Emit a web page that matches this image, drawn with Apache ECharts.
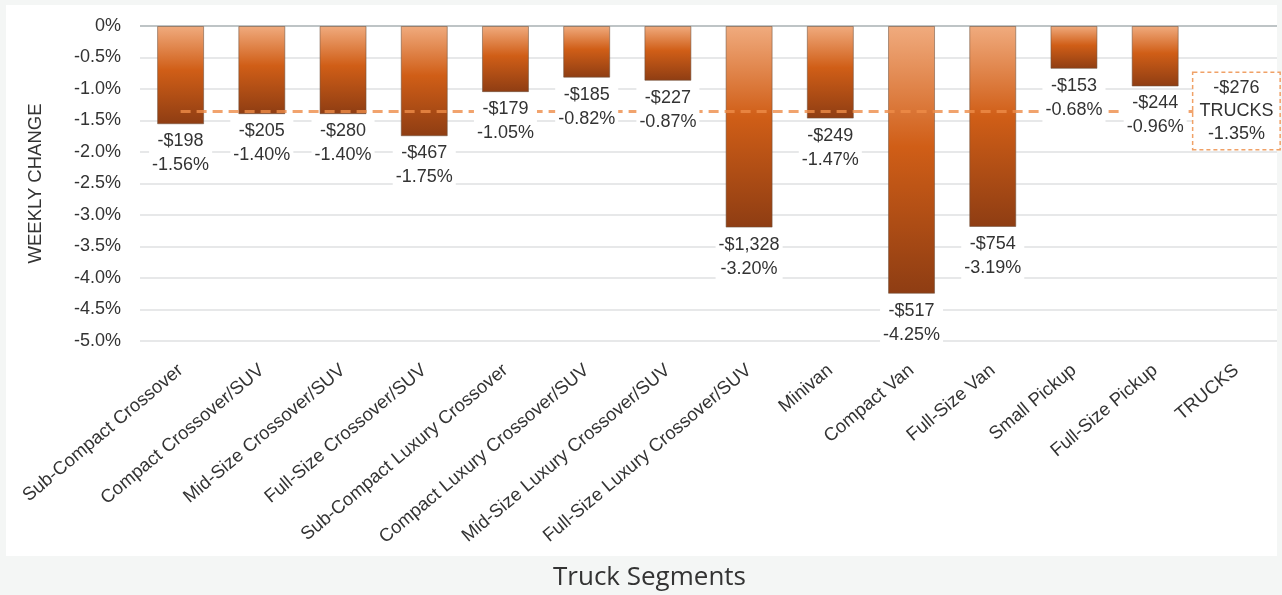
<!DOCTYPE html>
<html>
<head>
<meta charset="utf-8">
<script src="https://cdn.jsdelivr.net/npm/echarts@6/dist/echarts.min.js"></script>
<style>
html,body{margin:0;padding:0;background:#f4f6f5;width:1282px;height:595px;overflow:hidden;}
#panel{position:absolute;left:6px;top:5px;width:1271px;height:551px;background:#fff;}
#chart{position:absolute;left:0;top:0;width:1282px;height:595px;}
</style>
</head>
<body>
<div id="panel"></div>
<div id="chart"></div>
<script>
const categories = [
  'Sub-Compact Crossover','Compact Crossover/SUV','Mid-Size Crossover/SUV','Full-Size Crossover/SUV',
  'Sub-Compact Luxury Crossover','Compact Luxury Crossover/SUV','Mid-Size Luxury Crossover/SUV',
  'Full-Size Luxury Crossover/SUV','Minivan','Compact Van','Full-Size Van','Small Pickup','Full-Size Pickup','TRUCKS'
];
const pctChange = [-1.56, -1.40, -1.40, -1.75, -1.05, -0.82, -0.87, -3.20, -1.47, -4.25, -3.19, -0.68, -0.96, null];
const dollarChange = ['-$198','-$205','-$280','-$467','-$179','-$185','-$227','-$1,328','-$249','-$517','-$754','-$153','-$244', null];
const trucksName = 'TRUCKS';
const trucksPct = -1.35;
const trucksDollar = '-$276';
const yTicks = { min: -5, max: 0, interval: 0.5 };

const chart = echarts.init(document.getElementById('chart'), null, { renderer: 'canvas' });
const font = 'Liberation Sans, Arial, sans-serif';

const barData = pctChange.map(v => v === null ? '-' : v);
const nLines = Math.round((yTicks.max - yTicks.min) / yTicks.interval) + 1;
const gridColors = Array.from({ length: nLines }, (_, i) => i === nLines - 1 ? '#a9b0b3' : '#dfe1e2');

chart.setOption({
  backgroundColor: 'transparent',
  animation: false,
  title: {
    text: 'Truck Segments',
    left: 548,
    top: 560,
    textStyle: { fontFamily: 'Open Sans', fontWeight: 'normal', fontSize: 26, color: '#333' }
  },
  grid: { left: 140, right: 5, top: 26, bottom: 254, containLabel: false },
  xAxis: {
    type: 'category',
    data: categories,
    position: 'bottom',
    axisLine: { show: false },
    axisTick: { show: false },
    axisLabel: {
      rotate: 40,
      interval: 0,
      margin: 27,
      fontSize: 18.5,
      fontFamily: font,
      color: '#333'
    }
  },
  yAxis: {
    type: 'value',
    min: yTicks.min,
    max: yTicks.max,
    interval: yTicks.interval,
    name: 'WEEKLY CHANGE',
    nameLocation: 'middle',
    nameRotate: 90,
    nameGap: 95,
    nameTextStyle: { fontSize: 18.5, fontFamily: font, color: '#333' },
    axisLine: { show: false },
    axisTick: { show: false },
    axisLabel: {
      margin: 19,
      fontSize: 18,
      fontFamily: font,
      color: '#333',
      formatter: v => v === 0 ? '0%' : v.toFixed(1) + '%'
    },
    splitLine: { lineStyle: { color: gridColors, width: 1.5 } }
  },
  series: [
    {
      type: 'bar',
      data: barData,
      barWidth: 47,
      z: 2,
      itemStyle: {
        color: new echarts.graphic.LinearGradient(0, 0, 0, 1, [
          { offset: 0, color: '#f0ab7e' },
          { offset: 0.45, color: '#d05e17' },
          { offset: 1, color: '#8e3d13' }
        ]),
        borderColor: 'rgba(110,80,60,0.55)',
        borderWidth: 1
      },
      label: { show: false },
      markLine: {
        silent: true,
        symbol: 'none',
        z: 5,
        label: { show: false },
        lineStyle: { color: '#ee8c48', opacity: 0.8, width: 3, type: [10, 6] },
        data: [[
          { coord: [categories[0], trucksPct] },
          { coord: [trucksName, trucksPct] }
        ]]
      }
    },
    {
      type: 'bar',
      data: barData,
      barWidth: 47,
      barGap: '-100%',
      z: 10,
      silent: true,
      itemStyle: { color: 'rgba(0,0,0,0)' },
      label: {
        show: true,
        position: 'bottom',
        distance: 4,
        fontSize: 18,
        lineHeight: 24,
        fontFamily: font,
        color: '#333',
        align: 'center',
        backgroundColor: '#fff',
        padding: [1, 3, 1, 3],
        formatter: p => dollarChange[p.dataIndex] + '\n' + pctChange[p.dataIndex].toFixed(2) + '%'
      }
    },
    {
      type: 'scatter',
      data: [[trucksName, trucksPct]],
      symbolSize: 1,
      itemStyle: { color: 'rgba(0,0,0,0)', opacity: 1 },
      z: 10,
      silent: true,
      label: {
        show: true,
        position: 'inside',
        fontSize: 18,
        lineHeight: 23,
        fontFamily: font,
        color: '#333',
        align: 'center',
        backgroundColor: '#fff',
        borderColor: '#f0a167',
        borderWidth: 1.5,
        borderType: [4, 3],
        padding: [4, 6, 3, 6],
        formatter: () => trucksDollar + '\n' + trucksName + '\n' + trucksPct.toFixed(2) + '%'
      }
    }
  ]
});
</script>
</body>
</html>
